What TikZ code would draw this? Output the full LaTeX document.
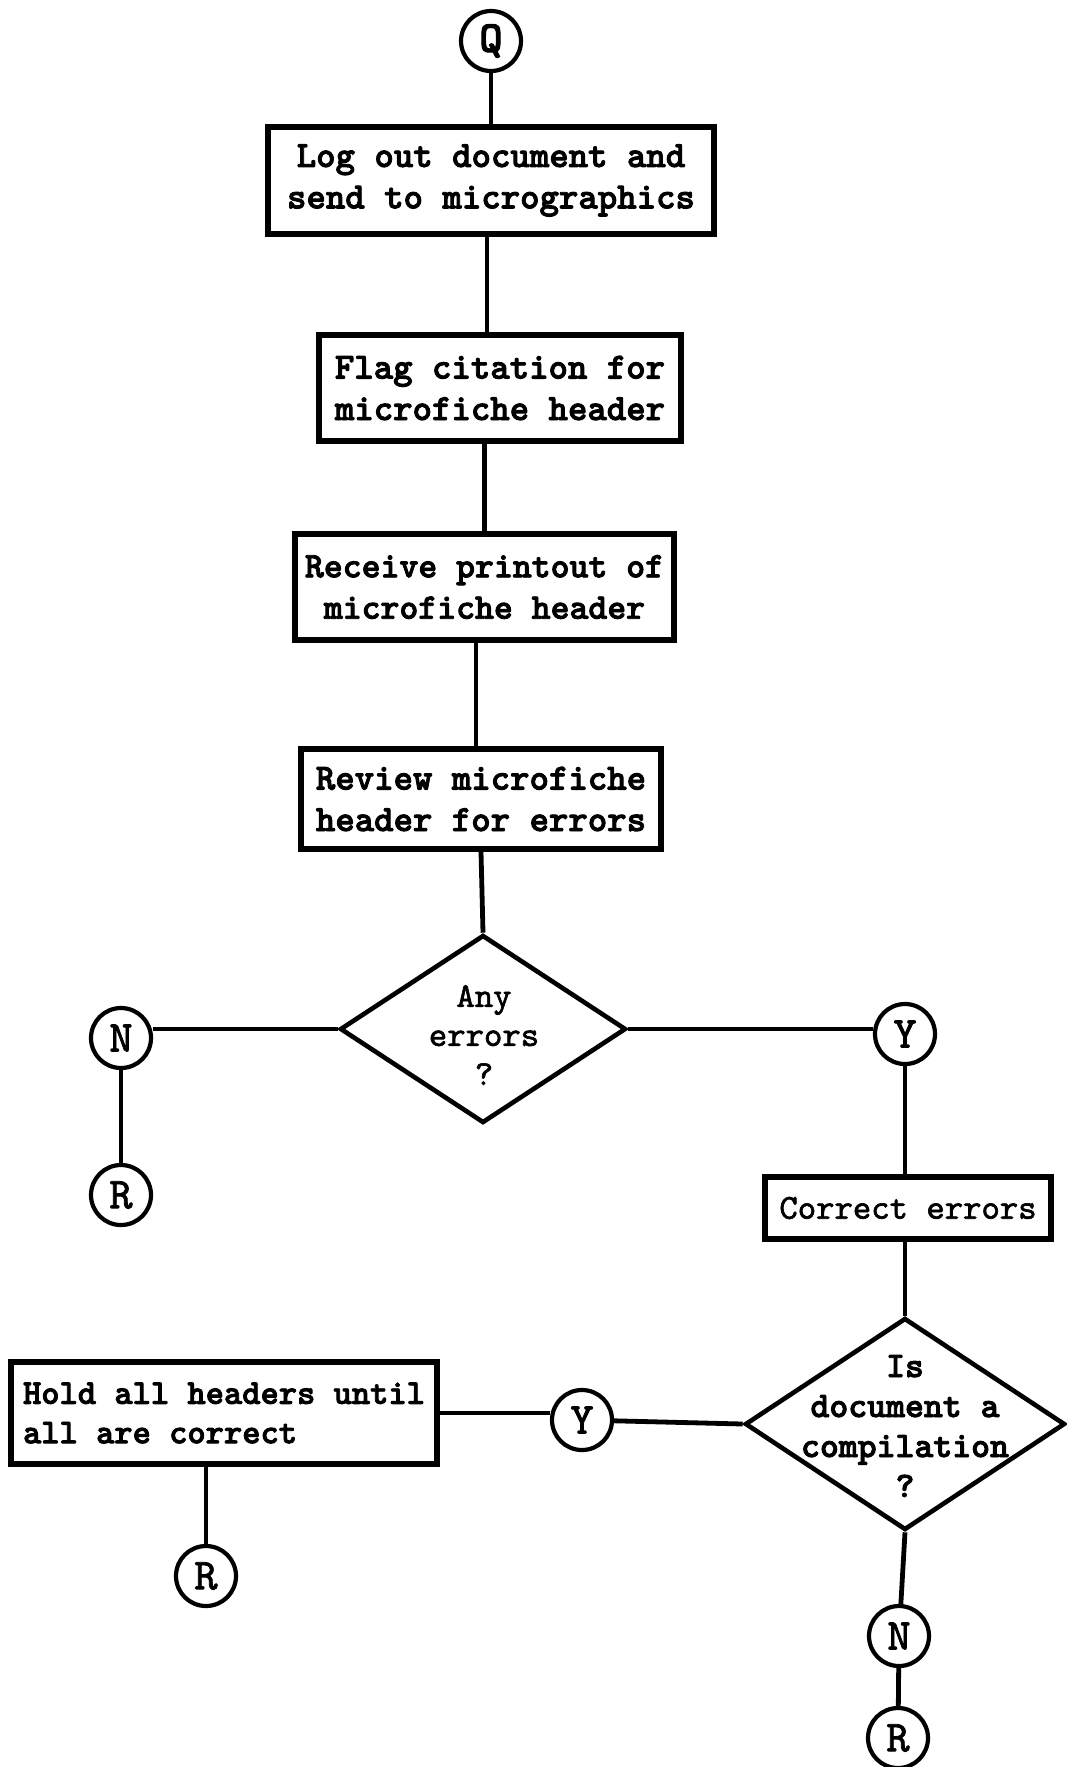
\documentclass[tikz,border=0pt]{standalone}
\usepackage{fontspec}
\usetikzlibrary{shapes.geometric}
% heavy typewriter faces
\newfontfamily\heavytt{lmmonolt10-bold.otf}[FakeBold=2.4]
\newfontfamily\medtt{lmmono10-regular.otf}[FakeBold=1.8]
\newcommand\boxfont{\fontsize{18.5}{20.7}\selectfont\heavytt}
\newcommand\holdfont{\fontsize{17.4}{19.7}\selectfont\heavytt}
\newcommand\plainfont{\fontsize{17.5}{19.5}\selectfont\medtt}
\newcommand\askfont{\fontsize{18}{20}\selectfont\heavytt}
\newcommand\connfont{\fontsize{22}{22}\selectfont\medtt}
\begin{document}
\begin{tikzpicture}[x=0.5pt,y=-0.5pt,
  stepbox/.style={draw, rectangle, line width=2.6pt, inner sep=0pt, align=center, font=\boxfont},
  conn/.style={draw, circle, line width=2.1pt, minimum size=30pt, inner sep=0pt, font=\connfont},
  decision/.style={draw, diamond, line width=2.3pt, inner sep=0pt},
  link/.style={line width=2.4pt}]
\useasboundingbox (0,0) rectangle (1066,1767);

% main column
\node[conn, font=\fontsize{22}{22}\selectfont\heavytt] (Q) at (491,41) {Q};
\node[stepbox, minimum width=223pt, minimum height=53.5pt] (b1) at (491,180.5)
  {Log out document and\\send to micrographics};
\node[stepbox, minimum width=181pt, minimum height=53pt] (b2) at (500,388)
  {Flag citation for\\microfiche header};
\node[stepbox, minimum width=189.5pt, minimum height=53pt, font=\fontsize{18}{20.7}\selectfont\heavytt] (b3) at (484.5,587)
  {Receive printout of\\microfiche header};
\node[stepbox, minimum width=180pt, minimum height=50pt] (b4) at (481,799)
  {Review microfiche\\header for errors};

% first decision
\node[decision, minimum width=143pt, minimum height=94pt] (d1) at (483,1029) {};
\node[align=center, font=\plainfont, inner sep=0pt] (d1txt) at (484,1035) {Any\\errors\\?};

\node[conn] (N1) at (121,1038) {N};
\node[conn] (R1) at (121,1195) {R};
\node[conn] (Y1) at (905,1034) {Y};

\node[stepbox, font=\plainfont, minimum width=143pt, minimum height=31pt] (ce) at (908,1208) {Correct errors};

% second decision
\node[decision, minimum width=160pt, minimum height=106pt] (d2) at (905,1424) {};
\node[align=center, font=\askfont, inner sep=0pt] (d2txt) at (905,1426) {Is\\document a\\compilation\\?};

\node[conn] (Y2) at (582,1420) {Y};
\node[stepbox, font=\holdfont, align=left, minimum width=213pt,
      minimum height=51pt] (hold) at (224,1413)
  {Hold all headers until\\all are correct};
\node[conn] (R2) at (206,1576) {R};
\node[conn] (N3) at (899,1636) {N};
\node[conn] (R3) at (898,1738) {R};

% connectors
\draw[link] (Q) -- (Q |- b1.north);
\draw[link] ([xshift=-2pt]b1.south) -- ([xshift=-2pt]b1.south |- b2.north);
\draw[link] (b3.north) -- (b3.north |- b2.south);
\draw[link] ([xshift=-2.5pt]b4.north) -- ([xshift=-2.5pt]b4.north |- b3.south);
\draw[link] (b4.south) -- (d1.north);
\draw[link] (d1.west) -- (d1.west -| N1.east);
\draw[link] (N1) -- (R1);
\draw[link] (d1.east) -- (d1.east -| Y1.west);
\draw[link] (Y1) -- (Y1 |- ce.north);
\draw[link] (d2.north) -- (d2.north |- ce.south);
\draw[link] (d2.west) -- (Y2);
\draw[link] (hold.east) -- (hold.east -| Y2.west);
\draw[link] (hold.south -| R2) -- (R2);
\draw[link] (d2.south) -- (N3);
\draw[link] (N3) -- (R3);
\end{tikzpicture}
\end{document}
